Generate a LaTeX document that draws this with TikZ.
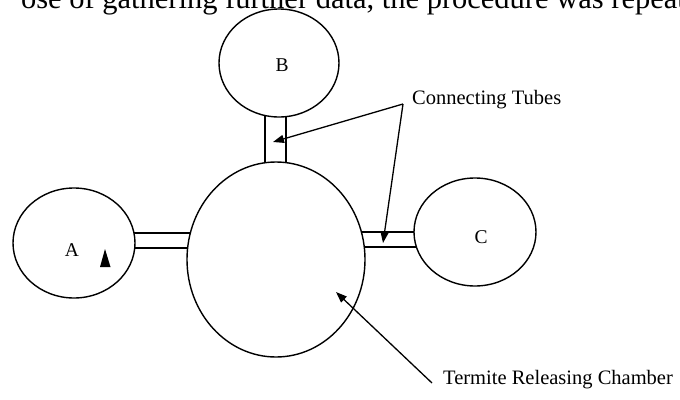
\documentclass[tikz,border=0pt]{standalone}
\usepackage{fontspec}
\setmainfont{Liberation Serif}
\usetikzlibrary{shapes.geometric,arrows.meta}
\tikzset{
  chamber/.style={draw, ellipse, fill=white, inner sep=0pt, line width=1.4pt},
  tube/.style={line width=1.3pt},
  pointer/.style={line width=1.3pt, -{Triangle[length=11pt,width=8pt]}},
  letter/.style={inner sep=0pt, font=\fontsize{19.5}{22}\selectfont},
  caption/.style={inner sep=0pt, font=\fontsize{20.5}{24}\selectfont},
}
\begin{document}
\begin{tikzpicture}[x=1pt,y=-1pt]
\useasboundingbox (0,0) rectangle (680,399);
\clip (0,0) rectangle (680,399);
\fill[white] (0,0) rectangle (680,399);
% cropped line of body text at the top
\node[anchor=base east, inner sep=0pt, font=\fontsize{30.5}{34}\selectfont] (body) at (686,8.5) {ose of gathering further data, the procedure was repeat};
% tubes (drawn first, ends hidden under the chambers)
\draw[tube] (265,63) -- (265,260);
\draw[tube] (286,63) -- (286,260);
\draw[tube] (74,233) -- (276,233);
\draw[tube] (74,248) -- (276,248);
\draw[tube] (276,232) -- (475,232);
\draw[tube] (276,247) -- (475,247);
% chambers
\node[chamber, minimum width=178pt, minimum height=195pt] (main) at (276,259.5) {};
\node[chamber, minimum width=120pt, minimum height=108pt] (b) at (279,63) {};
\node[chamber, minimum width=122pt, minimum height=110pt] (a) at (74,243) {};
\node[chamber, minimum width=122pt, minimum height=108pt] (c) at (475,232) {};
\node[letter] (la) at (72,250) {A};
\node[letter] (lb) at (282,65) {B};
\node[letter] (lc) at (481,237) {C};
% small triangle in A
\fill (105,249) -- (110.5,267) -- (100,267) -- cycle;
% labels and pointers
\node[caption, anchor=base west] (ct) at (412,104) {Connecting Tubes};
\coordinate (apex) at (403,104);
\coordinate (tipb) at (273,142);
\coordinate (tipc) at (383,243);
\draw[pointer] (apex) -- (tipb);
\draw[pointer] (apex) -- (tipc);
\node[caption, anchor=base west] (trc) at (443,384) {Termite Releasing Chamber};
\coordinate (trcend) at (432,383);
\coordinate (tipm) at (336,292);
\draw[pointer] (trcend) -- (tipm);
\end{tikzpicture}
\end{document}
